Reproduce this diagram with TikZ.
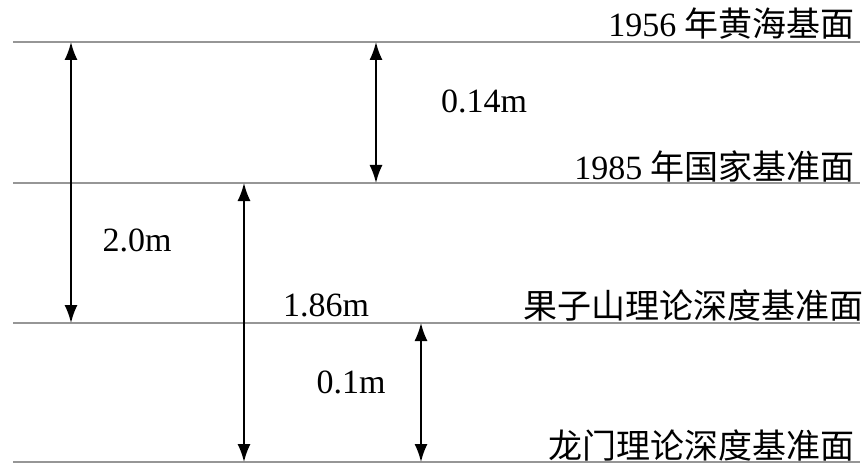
\documentclass[tikz,border=0pt]{standalone}
\usepackage{fontspec}
\setmainfont{Liberation Serif}
\newfontfamily\cjk{Noto Sans CJK SC}
\usepackage{tikz}
\usetikzlibrary{arrows.meta, positioning}
\definecolor{levelgray}{RGB}{150, 150, 150}

\begin{document}
\begin{tikzpicture}[x=1pt, y=-1pt,
    level/.style={draw=levelgray, line width=2pt},
    dim/.style={{Latex[length=18pt,width=13pt]}-{Latex[length=18pt,width=13pt]}, line width=1.8pt},
    datum/.style={anchor=base east, inner sep=0pt, font=\fontsize{34}{34}\selectfont},
    val/.style={inner sep=0pt, font=\fontsize{34}{34}\selectfont}
]
  \useasboundingbox (0,0) rectangle (866,465);

  % datum levels
  \coordinate (h56w) at (13,42);  \coordinate (h56e) at (860,42);
  \coordinate (g85w) at (13,183); \coordinate (g85e) at (860,183);
  \coordinate (gzsw) at (13,323); \coordinate (gzse) at (860,323);
  \coordinate (lmw)  at (13,462); \coordinate (lme)  at (860,462);
  \draw[level] (h56w) -- (h56e);
  \draw[level] (g85w) -- (g85e);
  \draw[level] (gzsw) -- (gzse);
  \draw[level] (lmw) -- (lme);

  \node[datum] (h56) at (855,37)  {1956 {\cjk 年黄海基面}};
  \node[datum] (g85) at (855,179) {1985 {\cjk 年国家基准面}};
  \node[datum] (gzs) at (864,318) {\cjk 果子山理论深度基准面};
  \node[datum] (lm)  at (855,458) {\cjk 龙门理论深度基准面};

  % differences
  \coordinate (a1) at (71,42);  \coordinate (b1) at (71,323);
  \coordinate (a2) at (376,42); \coordinate (b2) at (376,183);
  \coordinate (a3) at (244,183); \coordinate (b3) at (244,462);
  \coordinate (a4) at (421,323); \coordinate (b4) at (421,462);
  \draw[dim] (a1) -- (b1);
  \draw[dim] (a2) -- (b2);
  \draw[dim] (a3) -- (b3);
  \draw[dim] (a4) -- (b4);

  \node[val] (d1) at (137,240) {2.0m};
  \node[val] (d2) at (484,101) {0.14m};
  \node[val] (d3) at (326,305) {1.86m};
  \node[val] (d4) at (351,382) {0.1m};
\end{tikzpicture}
\end{document}
